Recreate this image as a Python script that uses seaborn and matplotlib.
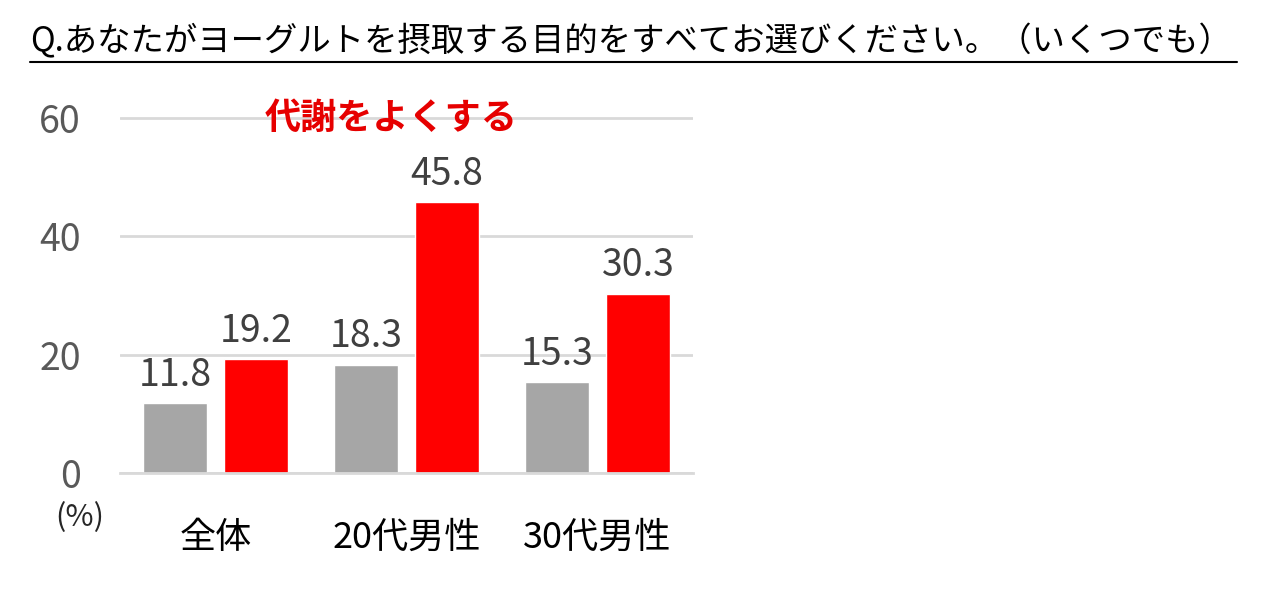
import pandas as pd
import seaborn as sns
import matplotlib.pyplot as plt
from matplotlib.lines import Line2D

sns.set_style('white')
plt.rcParams['font.family'] = ['Noto Sans CJK JP', 'DejaVu Sans']

# data
categories = ["全体", "20代男性", "30代男性"]
series = ["比較", "代謝をよくする"]
gray_vals = [11.8, 18.3, 15.3]
red_vals = [19.2, 45.8, 30.3]
yticks = [0, 20, 40, 60]

df = pd.DataFrame({
    "group": categories * 2,
    "series": [series[0]] * 3 + [series[1]] * 3,
    "value": gray_vals + red_vals,
})

fig = plt.figure(figsize=(12.8, 5.9), dpi=100)
ax = fig.add_axes([120 / 1280, 1 - 473 / 590, 573 / 1280, (473 - 115) / 590])

sns.barplot(data=df, x="group", y="value", hue="series", order=categories,
            hue_order=series, palette=["#a6a6a6", "#ff0000"], saturation=1,
            width=0.85, gap=0.21, legend=False, ax=ax)

for cont in ax.containers:
    ax.bar_label(cont, fmt="%.1f", padding=6, fontsize=27, color="#404040")

ax.set_ylim(0, 60.5)
ax.set_xlim(-0.5, 2.5)
ax.set_yticks(yticks)
ax.set_xlabel("")
ax.set_ylabel("")
ax.grid(axis="y", color="#d9d9d9", linewidth=2)
ax.set_axisbelow(True)
for s in ["top", "right", "left"]:
    ax.spines[s].set_visible(False)
ax.spines["bottom"].set_color("#d9d9d9")
ax.spines["bottom"].set_linewidth(2)
ax.tick_params(axis="y", length=0, pad=28, labelsize=27, labelcolor="#595959")
ax.tick_params(axis="x", length=0, pad=34, labelsize=26, labelcolor="#000000")

# series label over the chart
ax.text(0.92, 60.0, series[1], ha="center", va="center", fontsize=26,
        fontweight="bold", color="#e60000", clip_on=False)

fig.text(80 / 1280, 1 - 518 / 590, "(%)", ha="center", va="center",
         fontsize=22, color="#262626")

fig.text(30 / 1280, 1 - 42 / 590,
         "Q.あなたがヨーグルトを摂取する目的をすべてお選びください。（いくつでも）",
         ha="left", va="center", fontsize=24, color="#000000")
fig.add_artist(Line2D([30 / 1280, 1237 / 1280], [1 - 62 / 590, 1 - 62 / 590],
                      color="#000000", linewidth=1.5))

fig.savefig("out.png", dpi=100, facecolor="white")
